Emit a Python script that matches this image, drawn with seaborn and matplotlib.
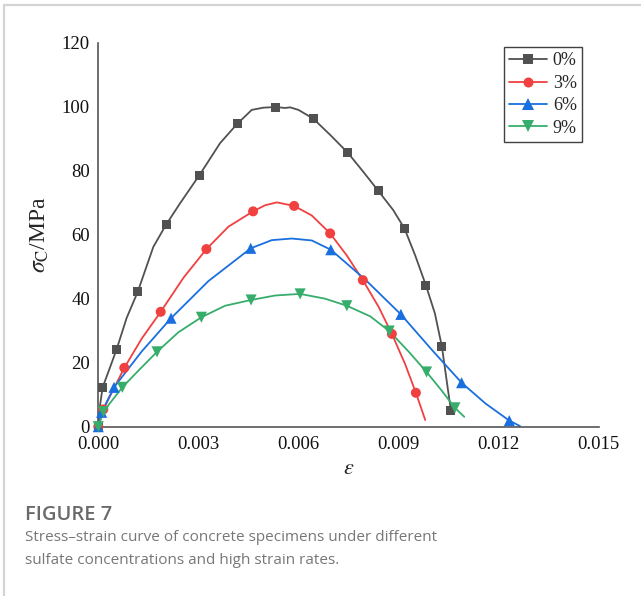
import matplotlib
matplotlib.use("Agg")
import matplotlib.pyplot as plt
from matplotlib.lines import Line2D
import seaborn as sns
import pandas as pd
import numpy as np

# ---------------- data (strain in units of 1e-3, stress in MPa) ----------------
labels = ["0%", "3%", "6%", "9%"]
colors = ["#515151", "#F14040", "#1A6FDF", "#37AD6B"]
markers = ["s", "o", "^", "v"]
msizes = [6.5, 7.2, 8.0, 8.0]

curve_eps_0 = [0, 0.05, 0.13, 0.35, 0.55, 0.85, 1.18, 1.65, 2.03, 2.45, 3.03, 3.65, 4.16, 4.6, 4.95,
               5.32, 5.6, 5.75, 6.0, 6.44, 6.95, 7.48, 7.94, 8.39, 8.84, 9.18, 9.5, 9.82, 10.09, 10.30, 10.57]
curve_sig_0 = [0, 6.5, 12.3, 18.5, 24.2, 34.0, 42.1, 56.2, 63.1, 69.8, 78.6, 88.6, 94.6, 99.0, 99.7,
               99.9, 99.6, 99.8, 99.0, 96.3, 91.2, 85.6, 79.7, 73.75, 67.7, 61.9, 53.5, 44.2, 35.4, 25.0, 5.0]
mark_eps_0 = [0, 0.13, 0.55, 1.18, 2.03, 3.03, 4.16, 5.32, 6.44, 7.48, 8.39, 9.18, 9.82, 10.30, 10.57]
mark_sig_0 = [0, 12.3, 24.2, 42.1, 63.1, 78.6, 94.6, 99.9, 96.3, 85.6, 73.75, 61.9, 44.2, 25.0, 5.0]

curve_eps_3 = [0, 0.15, 0.78, 1.3, 1.87, 2.55, 3.24, 3.9, 4.64, 5.0, 5.35, 5.87, 6.4, 6.95, 7.45, 7.93,
               8.4, 8.80, 9.2, 9.52, 9.80]
curve_sig_3 = [0, 5.4, 18.4, 27.5, 35.9, 46.5, 55.5, 62.5, 67.3, 69.2, 70.1, 69.0, 66.0, 60.4, 53.5, 45.8,
               37.5, 29.0, 19.5, 10.6, 2.1]
mark_eps_3 = [0, 0.15, 0.78, 1.87, 3.24, 4.64, 5.87, 6.95, 7.93, 8.80, 9.52]
mark_sig_3 = [0, 5.4, 18.4, 35.9, 55.5, 67.3, 69.0, 60.4, 45.8, 29.0, 10.6]

curve_eps_6 = [0, 0.1, 0.47, 1.3, 2.18, 3.3, 4.57, 5.2, 5.8, 6.4, 6.97, 8.0, 9.07, 10.0, 10.89,
               11.6, 12.32, 12.64]
curve_sig_6 = [0, 4.5, 12.3, 23.5, 33.9, 45.5, 55.75, 58.3, 58.8, 58.2, 55.3, 46.0, 35.1, 24.0, 13.75,
               7.3, 1.9, 0.2]
mark_eps_6 = [0, 0.1, 0.47, 2.18, 4.57, 6.97, 9.07, 10.89, 12.32]
mark_sig_6 = [0, 4.5, 12.3, 33.9, 55.75, 55.3, 35.1, 13.75, 1.9]

curve_eps_9 = [0, 0.15, 0.72, 1.2, 1.76, 2.4, 3.09, 3.8, 4.58, 5.3, 6.05, 6.8, 7.45, 8.15, 8.72,
               9.3, 9.84, 10.3, 10.69, 10.97]
curve_sig_9 = [0, 4.7, 12.3, 17.5, 23.4, 29.5, 34.2, 37.8, 39.6, 41.0, 41.5, 40.0, 37.8, 34.5, 29.9,
               23.5, 17.1, 11.2, 5.9, 3.1]
mark_eps_9 = [0, 0.15, 0.72, 1.76, 3.09, 4.58, 6.05, 7.45, 8.72, 9.84, 10.69]
mark_sig_9 = [0, 4.7, 12.3, 23.4, 34.2, 39.6, 41.5, 37.8, 29.9, 17.1, 5.9]

x_ticks = [0.000, 0.003, 0.006, 0.009, 0.012, 0.015]
x_ticklabels = ["0.000", "0.003", "0.006", "0.009", "0.012", "0.015"]
y_ticks = [0, 20, 40, 60, 80, 100, 120]

caption_title = "FIGURE 7"
caption_text = ("Stress\u2013strain curve of concrete specimens under different\n"
                "sulfate concentrations and high strain rates.")

curves = [(curve_eps_0, curve_sig_0, mark_eps_0, mark_sig_0),
          (curve_eps_3, curve_sig_3, mark_eps_3, mark_sig_3),
          (curve_eps_6, curve_sig_6, mark_eps_6, mark_sig_6),
          (curve_eps_9, curve_sig_9, mark_eps_9, mark_sig_9)]

# ---------------- style ----------------
sns.set_style("white")
plt.rcParams["font.family"] = ["Liberation Serif", "DejaVu Serif"]
plt.rcParams["mathtext.fontset"] = "stix"

W, H = 641, 596
fig = plt.figure(figsize=(W / 100, H / 100), dpi=100)
ax_left, ax_right, ax_top, ax_bottom = 98.3, 598.7, 42.7, 426.7
ax = fig.add_axes([ax_left / W, 1 - ax_bottom / H, (ax_right - ax_left) / W, (ax_bottom - ax_top) / H])

for (ce, cs, me, ms), lab, col, mk, msz in zip(curves, labels, colors, markers, msizes):
    dfc = pd.DataFrame({"eps": np.array(ce) * 1e-3, "sig": cs})
    dfm = pd.DataFrame({"eps": np.array(me) * 1e-3, "sig": ms})
    sns.lineplot(data=dfc, x="eps", y="sig", ax=ax, color=col, lw=1.3, sort=False,
                 estimator=None, legend=False, zorder=2)
    sns.scatterplot(data=dfm, x="eps", y="sig", ax=ax, color=col, marker=mk, s=msz ** 2,
                    edgecolor="none", linewidth=0, legend=False, zorder=3, clip_on=False)

ax.set_xlim(0, 0.015)
ax.set_ylim(0, 120)
ax.set_xticks(x_ticks)
ax.set_xticklabels(x_ticklabels)
ax.set_yticks(y_ticks)
for s in ["top", "right"]:
    ax.spines[s].set_visible(False)
for s in ["left", "bottom"]:
    ax.spines[s].set_color("#555555")
    ax.spines[s].set_linewidth(1.2)
ax.tick_params(axis="both", direction="in", length=5, width=1.1, color="#333333",
               labelsize=13.5, labelcolor="#111111")
ax.tick_params(axis="x", pad=7)
ax.tick_params(axis="y", pad=6)
ax.set_xlabel(r"$\varepsilon$", fontsize=16, labelpad=5)
ax.set_ylabel(r"$\sigma_{\mathrm{C}}$/MPa", fontsize=17, labelpad=8)
ax.grid(False)

handles = [Line2D([], [], color=c, marker=m, markersize=ms, lw=1.3, markeredgewidth=0)
           for c, m, ms in zip(colors, markers, msizes)]
leg = fig.legend(handles, labels, loc="upper left", bbox_to_anchor=(504 / W, 1 - 47 / H),
                 frameon=True, fancybox=False, fontsize=13, handlelength=2.1,
                 handletextpad=0.3, labelspacing=0.3, borderpad=0.3, borderaxespad=0)
leg.get_frame().set_edgecolor("#111111")
leg.get_frame().set_linewidth(1.0)

# card border
fig.add_artist(Line2D([4 / W, 1], [1 - 5 / H, 1 - 5 / H], color="#d4d4d4", lw=1.6,
                      transform=fig.transFigure))
fig.add_artist(Line2D([4 / W, 4 / W], [0, 1 - 5 / H], color="#d4d4d4", lw=1.6,
                      transform=fig.transFigure))

# caption
fig.text(25 / W, 1 - 515 / H, caption_title, fontsize=14.5, family=["Open Sans", "DejaVu Sans"],
         color="#6a6a6a", fontweight="semibold", va="center", ha="left")
fig.text(25 / W, 1 - 549 / H, caption_text, fontsize=11, family=["Open Sans", "DejaVu Sans"],
         color="#777777", va="center", ha="left", linespacing=1.7)

fig.savefig("out.png", dpi=100)
